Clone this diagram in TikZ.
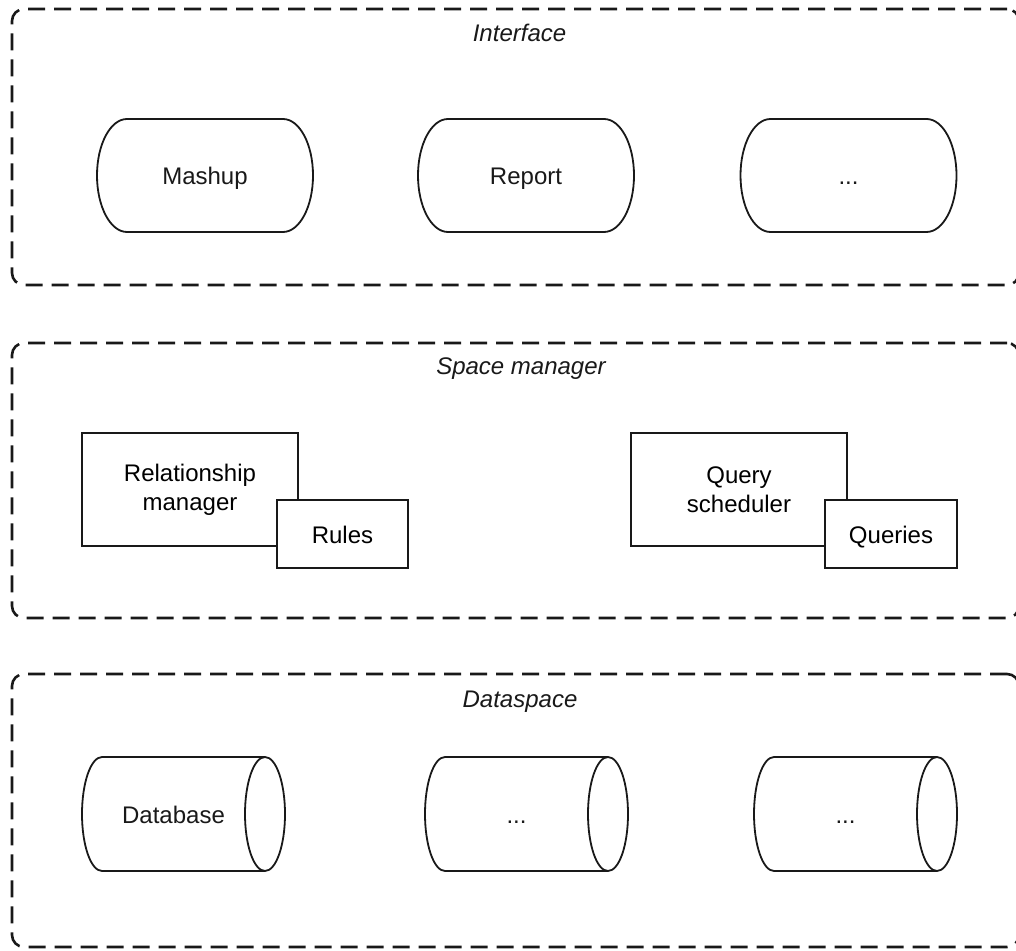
\documentclass[tikz,border=0pt]{standalone}
\usepackage{fontspec}
\setmainfont{Liberation Sans}
\begin{document}
\begin{tikzpicture}[x=1pt,y=1pt,
  layer/.style={draw=drawColor,line width=2.6pt,dash pattern=on 17pt off 9pt,rounded corners=12pt,inner sep=0pt,outer sep=0pt},
  layerLabel/.style={text=drawColor,inner sep=0pt,outer sep=0pt,text height=17pt,text depth=5pt,font=\fontsize{24}{29}\selectfont\itshape},
  box/.style={draw=drawColor,fill=fillColor,line width=1.8pt,align=center,inner sep=0pt,outer sep=0pt,font=\fontsize{24}{29}\selectfont},
  oneline/.style={text height=20pt,text depth=1pt},
  core/.style={text=drawColor,align=center,inner sep=0pt,outer sep=0pt,oneline,font=\fontsize{24}{29}\selectfont},
  outline/.style={draw=drawColor,line width=1.8pt,line join=round}]
\definecolor{fillColor}{RGB}{255,255,255}
\definecolor{drawColor}{RGB}{25,25,25}
\path[use as bounding box,fill=fillColor] (0,0) rectangle (1016,950);
\begin{scope}
\path[clip] (0,0) rectangle (1016,950);

% layers
\node[layer,minimum width=1007,minimum height=276] (interface) at (515.50,803.00) {};

\node[layer,minimum width=1007,minimum height=275] (spacemgr) at (515.50,469.50) {};

\node[layer,minimum width=1007,minimum height=273] (dataspace) at (515.50,139.50) {};

\node[layerLabel] (lblInterface) at (519.50,914.00) {Interface};

\node[layerLabel] (lblSpacemgr) at (521.00,581.00) {Space manager};

\node[layerLabel] (lblDataspace) at (520.00,248.00) {Dataspace};

% interface
\node[core,minimum width=156,minimum height=113] (mashup) at (205.00,774.50) {Mashup};

\node[core,minimum width=156,minimum height=113] (report) at (526.00,774.50) {Report};

\node[core,minimum width=156,minimum height=113] (moreUi) at (848.50,774.50) {...};

\foreach \n in {mashup,report,moreUi}
  \path[outline] (\n.north west) -- (\n.north east)
    arc[start angle=90,end angle=-90,x radius=30pt,y radius=56.5pt] --
    (\n.south west)
    arc[start angle=270,end angle=90,x radius=30pt,y radius=56.5pt] -- cycle;

% space manager
\node[box,minimum width=216,minimum height=113] (relmgr) at (190.00,460.50) {Relationship\\manager};

\node[box,oneline,minimum width=131,minimum height=68] (rules) at (342.50,416.00) {Rules};

\node[box,minimum width=216,minimum height=113] (qsched) at (739.00,460.50) {Query\\scheduler};

\node[box,oneline,minimum width=132,minimum height=68] (queries) at (891.00,416.00) {Queries};

% dataspace
\node[core,minimum width=183,minimum height=114] (db) at (173.50,136.00) {Database};

\node[core,minimum width=183,minimum height=114] (moreDbA) at (516.50,136.00) {...};

\node[core,minimum width=183,minimum height=114] (moreDbB) at (845.50,136.00) {...};

\foreach \n in {db,moreDbA,moreDbB} {
  \path[outline] ([xshift=20pt]\n.north west) -- (\n.north east)
    arc[start angle=90,end angle=-90,x radius=20pt,y radius=57pt] --
    ([xshift=20pt]\n.south west)
    arc[start angle=270,end angle=90,x radius=20pt,y radius=57pt] -- cycle;
  \path[outline] (\n.north east)
    arc[start angle=90,end angle=270,x radius=20pt,y radius=57pt];
}
\end{scope}
\end{tikzpicture}
\end{document}
